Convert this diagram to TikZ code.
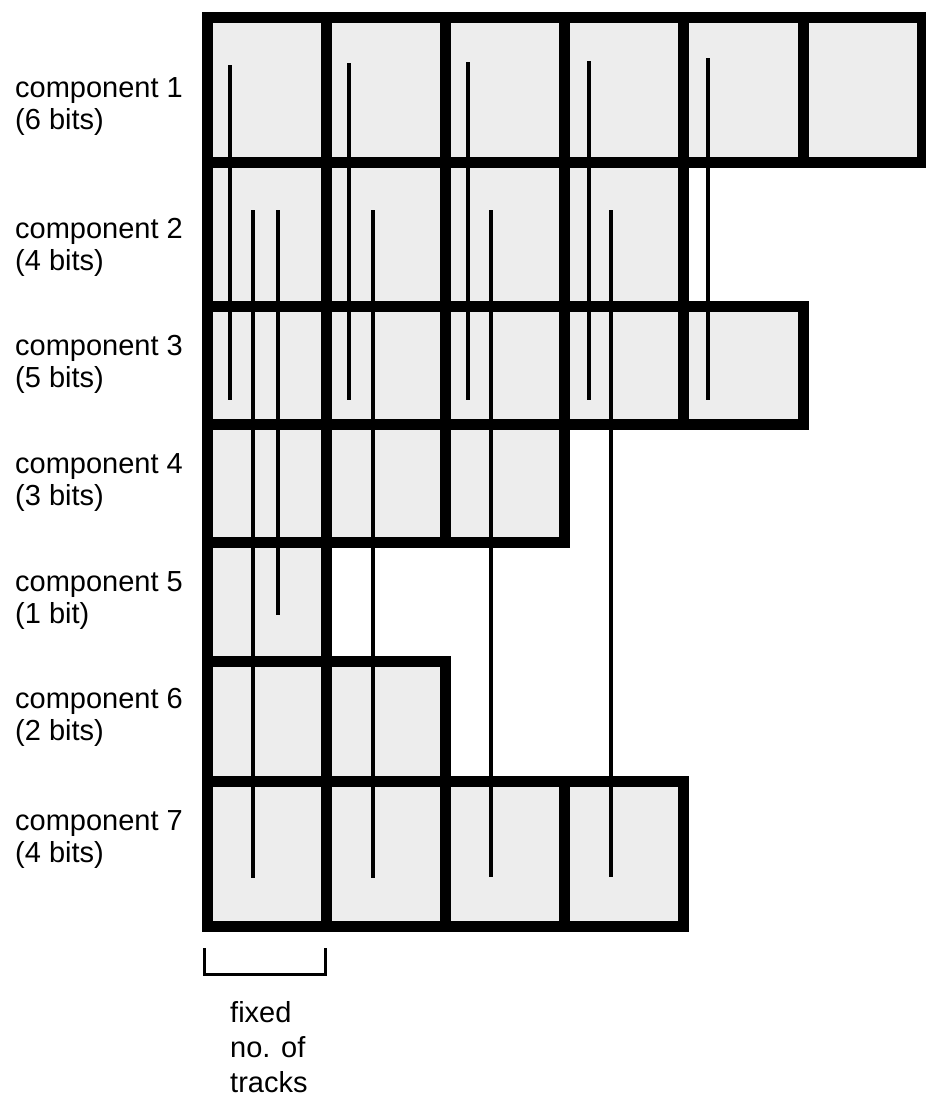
\documentclass[tikz,border=0pt]{standalone}
\usepackage{fontspec}
\setmainfont{Liberation Sans}
\begin{document}
\begin{tikzpicture}[x=1pt,y=-1pt]
\tikzset{cell/.style={fill=black!7},
  wall/.style={line width=11pt,line join=miter},
  track/.style={line width=3.5pt},
  lbl/.style={anchor=base west,inner sep=0pt,align=left,font=\fontsize{29}{32}\selectfont}}
\useasboundingbox (0,0) rectangle (926,1101);
% shaded cells, one row per component
\foreach \ya/\yb/\n in {17/162/6,162/306/4,306/424/5,424/542/3,542/661/1,661/781/2,781/926/4}
  \fill[cell] (207,\ya) rectangle ({207+119.2*\n},\yb);
% tracks
\foreach \x/\ya/\yb in {230/65/400,349/63/400,468/62/400,589/61/400,708/58/400,
  253/210/878,278/210/615,373/210/878,491/210/877,611/210/877}
  \draw[track] (\x,\ya) -- (\x,\yb);
% thick walls
\foreach \ya/\yb/\n in {17/162/6,162/306/4,306/424/5,424/542/3,542/661/1,661/781/2,781/926/4}{
  \draw[wall] (207,\ya) rectangle ({207+119.2*\n},\yb);
  \foreach \k in {1,...,\n}
    \draw[wall] ({207+119.2*\k},\ya) -- ({207+119.2*\k},\yb);
}
% labels (anchored at the baseline of their last line)
\node[lbl] (comp1) at (15,129) {component 1\\(6 bits)};
\node[lbl] (comp2) at (15,270) {component 2\\(4 bits)};
\node[lbl] (comp3) at (15,387) {component 3\\(5 bits)};
\node[lbl] (comp4) at (15,505) {component 4\\(3 bits)};
\node[lbl] (comp5) at (15,623) {component 5\\(1 bit)};
\node[lbl] (comp6) at (15,740) {component 6\\(2 bits)};
\node[lbl] (comp7) at (15,862) {component 7\\(4 bits)};
% bracket under first column
\draw[line width=3pt] (204,948) -- (204,974) -- (325,974) -- (325,948);
\node[lbl,font=\fontsize{29}{35}\selectfont] (fixed) at (230,1092) {fixed\\no. of\\tracks};
\end{tikzpicture}
\end{document}
